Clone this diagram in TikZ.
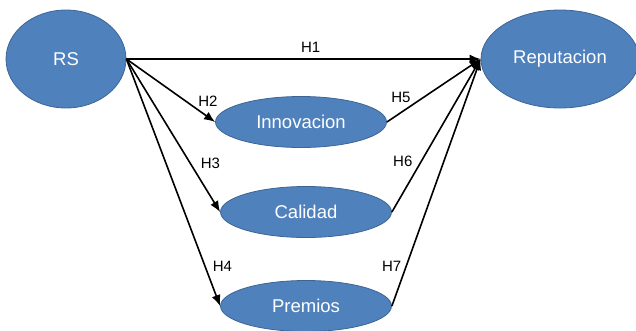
\documentclass[tikz,border=0pt]{standalone}
\usepackage{fontspec}
\setmainfont{Liberation Sans}
\usetikzlibrary{shapes.geometric,positioning,arrows.meta}
\definecolor{boxblue}{HTML}{4F81BD}
\definecolor{rimblue}{HTML}{3C6596}

\begin{document}
\begin{tikzpicture}[x=1pt,y=-1pt,on grid,
		construct/.style={ellipse,draw=rimblue,fill=boxblue,line width=0.8pt,text=white,
			font=\fontsize{18.5}{20}\selectfont,inner sep=0pt},
		small/.style={construct,minimum width=171pt,minimum height=51pt},
		hyp/.style={font=\fontsize{15}{17}\selectfont,inner sep=1pt}]
		\useasboundingbox (0,0) rectangle (636,330);
		\node[construct,minimum width=120pt,minimum height=98pt](rs) at (66,59) {RS};
		\node[construct,minimum width=158pt,minimum height=98pt](rep)[right=494pt of rs] {Reputacion};
		\node[small](inn)[below right=63pt and 235pt of rs] {Innovacion};
		\node[small](cal)[below right=153pt and 240pt of rs] {Calidad};
		\node[small](pre)[below=94pt of cal] {Premios};
		\path[-{Latex[length=11pt,width=9pt]},line width=1.6pt]
		(rs.east) edge node[hyp,pos=0.52,above=5pt] {H1} (rep.west)
		(rs.east) edge node[hyp,pos=0.79,above right] {H2} (inn.west)
		(rs.east) edge node[hyp,pos=0.68,right=9pt] {H3} (cal.west)
		(rs.east) edge node[hyp,pos=0.84,right=6pt] {H4} (pre.west)
		(inn.east) edge node[hyp,pos=0.15,above=8pt] {H5} (rep.west)
		(cal.east) edge node[hyp,pos=0.33,left=7pt] {H6} (rep.west)
		(pre.east) edge node[hyp,pos=0.16,left=3pt] {H7} (rep.west);
\end{tikzpicture}
\end{document}
